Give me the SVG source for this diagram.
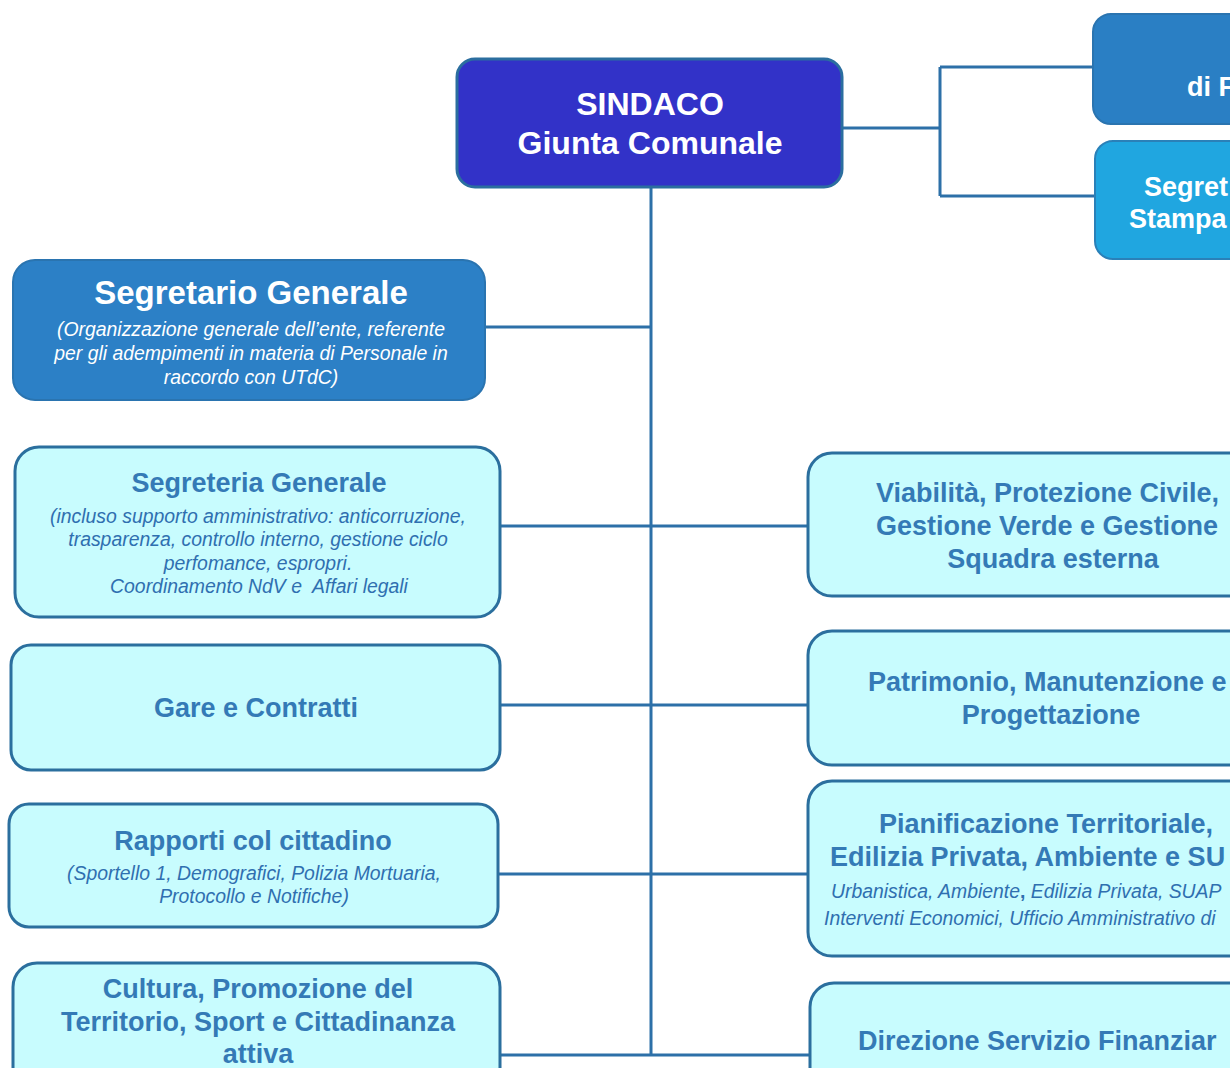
<svg xmlns="http://www.w3.org/2000/svg" width="1230" height="1068" viewBox="0 0 1230 1068">
<style>
.conn{fill:none;stroke:#2d70a8;stroke-width:3}
.lite{fill:#c8fcfe;stroke:#2b6f9e;stroke-width:3}
.dark{fill:#2c80c6;stroke:#2a74b0;stroke-width:2}
.t{font-family:"Liberation Sans",Arial,sans-serif;font-weight:bold;font-size:27px;fill:#347ab6;text-anchor:middle}
.s{font-family:"Liberation Sans",Arial,sans-serif;font-style:italic;font-size:19.4px;fill:#2f6fb0;text-anchor:middle;white-space:pre}
.w{fill:#ffffff}
.st{text-anchor:start}
</style>
<rect width="1230" height="1068" fill="#ffffff"/>
<g id="connectors">
<path class="conn" d="M651 188V1055M500 1055H809M485 327H651M500 526H807M500 705H807M498 874H807"/>
<path class="conn" d="M843 128H940M940 67V196M940 67H1093M940 196H1095"/>
</g>
<g id="sindaco">
<rect x="457" y="59" width="385" height="128" rx="18" fill="#3232c8" stroke="#2b6e9f" stroke-width="3"/>
<text class="t w" x="650" y="115" style="font-size:32px">SINDACO</text>
<text class="t w" x="650" y="154" style="font-size:32px">Giunta Comunale</text>
</g>
<g id="top-right-1">
<rect x="1093" y="14" width="200" height="110" rx="18" fill="#2a7fc4" stroke="#2a74b0" stroke-width="2"/>
<text class="t w st" x="1187" y="96" style="font-size:27px">di F</text>
</g>
<g id="top-right-2">
<rect x="1095" y="141" width="200" height="118" rx="18" fill="#20a6e0" stroke="#2a80b8" stroke-width="2"/>
<text class="t w st" x="1144" y="196" style="font-size:27px">Segret</text>
<text class="t w st" x="1129" y="228" style="font-size:27px">Stampa</text>
</g>
<g id="segretario-generale">
<rect class="dark" x="13" y="260" width="472" height="140" rx="22"/>
<text class="t w" x="251" y="304" style="font-size:33px">Segretario Generale</text>
<text class="s w" x="251" y="336">(Organizzazione generale dell’ente, referente</text>
<text class="s w" x="251" y="360">per gli adempimenti in materia di Personale in</text>
<text class="s w" x="251" y="384">raccordo con UTdC)</text>
</g>
<g id="segreteria-generale">
<rect class="lite" x="15" y="447" width="485" height="170" rx="24"/>
<text class="t" x="259" y="492">Segreteria Generale</text>
<text class="s" x="258" y="523">(incluso supporto amministrativo: anticorruzione,</text>
<text class="s" x="258" y="546">trasparenza, controllo interno, gestione ciclo</text>
<text class="s" x="258" y="570">perfomance, espropri.</text>
<text class="s" x="259" y="593">Coordinamento NdV e  Affari legali</text>
</g>
<g id="gare-contratti">
<rect class="lite" x="11" y="645" width="489" height="125" rx="20"/>
<text class="t" x="256" y="717">Gare e Contratti</text>
</g>
<g id="rapporti-cittadino">
<rect class="lite" x="9" y="804" width="489" height="123" rx="20"/>
<text class="t" x="253" y="850">Rapporti col cittadino</text>
<text class="s" x="254" y="880">(Sportello 1, Demografici, Polizia Mortuaria,</text>
<text class="s" x="254" y="903">Protocollo e Notifiche)</text>
</g>
<g id="cultura">
<rect class="lite" x="13" y="963" width="487" height="140" rx="24"/>
<text class="t" x="258" y="998">Cultura, Promozione del</text>
<text class="t" x="258" y="1031">Territorio, Sport e Cittadinanza</text>
<text class="t" x="258" y="1063">attiva</text>
</g>
<g id="viabilita">
<rect class="lite" x="808" y="453" width="480" height="143" rx="24"/>
<text class="t st" x="876" y="502">Viabilità, Protezione Civile,</text>
<text class="t st" x="876" y="535">Gestione Verde e Gestione</text>
<text class="t" x="1053" y="568">Squadra esterna</text>
</g>
<g id="patrimonio">
<rect class="lite" x="808" y="631" width="480" height="134" rx="24"/>
<text class="t st" x="868" y="691">Patrimonio, Manutenzione e</text>
<text class="t" x="1051" y="724">Progettazione</text>
</g>
<g id="pianificazione">
<rect class="lite" x="808" y="781" width="480" height="175" rx="24"/>
<text class="t st" x="879" y="833">Pianificazione Territoriale,</text>
<text class="t st" x="830" y="866">Edilizia Privata, Ambiente e SU</text>
<text class="s st" x="831" y="898">Urbanistica, Ambiente<tspan font-weight="bold" font-style="normal">,</tspan> Edilizia Privata, SUAP</text>
<text class="s st" x="824" y="925">Interventi Economici, Ufficio Amministrativo di</text>
</g>
<g id="direzione-finanziaria">
<rect class="lite" x="810" y="983" width="480" height="140" rx="24"/>
<text class="t st" x="858" y="1050">Direzione Servizio Finanziar</text>
</g>
</svg>
